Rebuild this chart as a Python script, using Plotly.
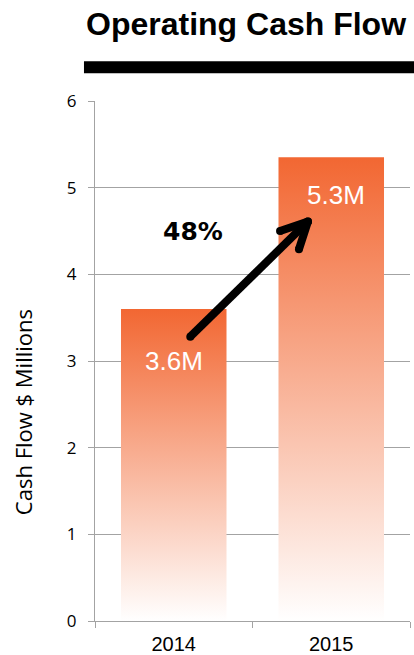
import plotly.graph_objects as go

# ---- data ----
years = ["2014", "2015"]
cash_flow = [3.6, 5.35]          # $ millions
value_labels = ["3.6M", "5.3M"]
growth_label = "48%"
y_ticks = [0, 1, 2, 3, 4, 5, 6]

# arrow (data coordinates): tail -> tip, plus two head arms
arrow_x = [0.105, 0.852, None, 0.675, 0.852, 0.795]
arrow_y = [3.28, 4.61, None, 4.50, 4.61, 4.29]

BAR_W = 0.67
TOP = "#F26732"
GRID = "#A3A3A3"

fig = go.Figure()

for i, v in enumerate(cash_flow):
    x0, x1 = i - BAR_W / 2, i + BAR_W / 2
    fig.add_trace(go.Scatter(
        x=[x0, x1, x1, x0, x0], y=[0, 0, v, v, 0],
        mode="lines", fill="toself", line=dict(width=0),
        fillgradient=dict(type="vertical",
                          colorscale=[[0, "#FFFFFF"], [1, TOP]]),
        hoverinfo="skip", showlegend=False,
    ))

fig.add_trace(go.Scatter(
    x=arrow_x, y=arrow_y, mode="lines+markers",
    line=dict(color="black", width=8),
    marker=dict(color="black", size=8),
    hoverinfo="skip", showlegend=False,
))

annotations = [
    dict(x=0.0, y=3.0, xref="x", yref="y", text=value_labels[0], showarrow=False,
         font=dict(family="Liberation Sans, Arial", size=26, color="white")),
    dict(x=1.03, y=4.92, xref="x", yref="y", text=value_labels[1], showarrow=False,
         font=dict(family="Liberation Sans, Arial", size=26, color="white")),
    dict(x=0.122, y=4.50, xref="x", yref="y", text="<b>" + growth_label + "</b>", showarrow=False,
         font=dict(family="DejaVu Sans", size=25, color="black")),
    dict(x=0.479, y=1.1475, xref="paper", yref="paper", text="<b>Operating Cash Flow</b>",
         showarrow=False, xanchor="center", yanchor="middle",
         font=dict(family="Liberation Sans, Arial", size=32, color="black")),
    dict(x=-0.228, y=0.402, xref="paper", yref="paper", text="Cash Flow $ Millions",
         showarrow=False, textangle=-90, xanchor="center", yanchor="middle",
         font=dict(family="Open Sans", size=22, color="black")),
]

fig.update_layout(
    width=414, height=655,
    margin=dict(l=95, r=4, t=101, b=34),
    paper_bgcolor="white", plot_bgcolor="white",
    annotations=annotations,
    shapes=[dict(type="rect", xref="paper", yref="paper",
                 x0=-0.035, x1=1.02, y0=1.0532, y1=1.0763,
                 fillcolor="black", line=dict(width=0), layer="above")],
    xaxis=dict(range=[-0.5, 1.5], tickmode="array", tickvals=[0, 1], ticktext=years,
               ticks="", showgrid=False, zeroline=False, automargin=False,
               showline=True, linecolor=GRID, linewidth=1,
               tickfont=dict(family="Liberation Sans, Arial", size=20, color="black"),
               ticklabelstandoff=5,
               minor=dict(tickmode="array", tickvals=[-0.5, 0.5, 1.5], ticks="outside",
                          ticklen=6, tickcolor=GRID, tickwidth=1, showgrid=False)),
    yaxis=dict(range=[0, 6], tickmode="array", tickvals=y_ticks, automargin=False,
               ticks="outside", ticklen=6, tickcolor=GRID, tickwidth=1,
               showgrid=True, gridcolor=GRID, gridwidth=1,
               zeroline=False, showline=True, linecolor=GRID, linewidth=1,
               tickfont=dict(family="Open Sans", size=17, color="black"),
               ticklabelstandoff=8),
)

fig.write_html("out.html")
